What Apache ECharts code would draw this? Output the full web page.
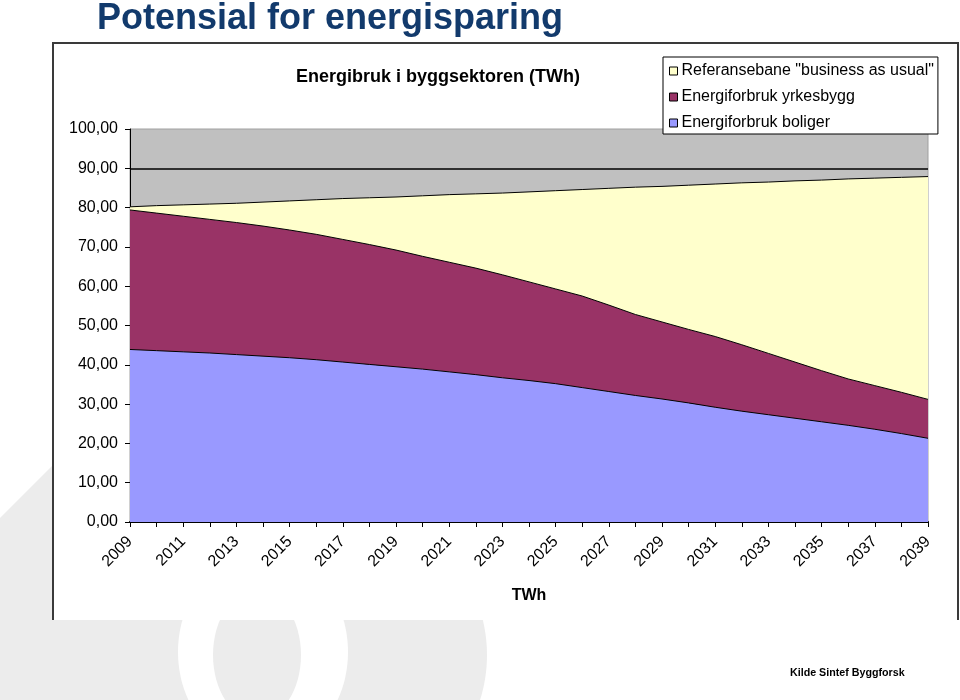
<!DOCTYPE html>
<html>
<head>
<meta charset="utf-8">
<style>
html,body{margin:0;padding:0;background:#fff;}
#chart{width:960px;height:700px;}
</style>
<script src="https://cdn.jsdelivr.net/npm/echarts@6/dist/echarts.min.js"></script>
</head>
<body>
<div id="chart"></div>
<script>
const years = ['2009','2010','2011','2012','2013','2014','2015','2016','2017','2018',
  '2019','2020','2021','2022','2023','2024','2025','2026','2027','2028',
  '2029','2030','2031','2032','2033','2034','2035','2036','2037','2038','2039'];
// Energiforbruk boliger (TWh)
const boliger = [43.9,43.6,43.3,43.0,42.6,42.2,41.8,41.3,40.7,40.1,
  39.5,38.9,38.2,37.5,36.7,36.0,35.2,34.2,33.2,32.2,
  31.3,30.3,29.2,28.2,27.3,26.4,25.5,24.6,23.6,22.5,21.3];
// Energiforbruk yrkesbygg (TWh, stacked on boliger)
const yrkesbygg = [35.5,35.0,34.5,34.0,33.6,33.1,32.5,31.9,31.2,30.5,
  29.7,28.7,27.9,27.1,26.2,25.1,24.1,23.3,22.0,20.6,
  19.6,18.7,18.0,16.9,15.6,14.3,13.0,11.8,11.1,10.5,9.9];
// Referansebane "business as usual" (extra TWh above the two others)
const referanse = [0.8,1.9,2.9,3.9,4.9,6.1,7.4,8.8,10.4,11.9,
  13.5,15.4,17.2,18.9,20.8,22.9,25.0,27.1,29.7,32.4,
  34.5,36.7,38.8,41.2,43.6,46.1,48.5,50.9,52.8,54.7,56.7];

const seriesNames = ['Energiforbruk boliger','Energiforbruk yrkesbygg','Referansebane "business as usual"'];
const seriesColors = ['#9999ff','#993366','#ffffcc'];
const FONT = '"Liberation Sans", Arial, sans-serif';

const chart = echarts.init(document.getElementById('chart'), null, {renderer:'canvas'});

function areaSeries(i, data){
  return {
    name: seriesNames[i], type:'line', stack:'total', data:data,
    symbol:'none', smooth:false,
    lineStyle:{color:'#000', width:1},
    areaStyle:{color:seriesColors[i], opacity:1},
    itemStyle:{color:seriesColors[i]},
    emphasis:{disabled:true},
    z: 3
  };
}

const option = {
  animation:false,
  backgroundColor:'#ffffff',
  textStyle:{fontFamily:FONT},
  graphic:[
    // watermark background shapes
    {type:'polygon', z:-100, silent:true, shape:{points:[[0,518],[53,465],[53,700],[0,700]]}, style:{fill:'#ececec'}},
    {type:'ellipse', z:-100, silent:true, shape:{cx:347, cy:655, rx:140, ry:144}, style:{fill:'#ececec'}},
    {type:'rect', z:-100, silent:true, shape:{x:0, y:618, width:300, height:82}, style:{fill:'#ececec'}},
    {type:'ellipse', z:-99, silent:true, shape:{cx:263, cy:652, rx:85, ry:100}, style:{fill:'#ffffff'}},
    {type:'ellipse', z:-98, silent:true, shape:{cx:257, cy:655, rx:44, ry:65}, style:{fill:'#ececec'}},
    // chart frame
    {type:'rect', z:-90, silent:true, shape:{x:53, y:43, width:905, height:577}, style:{fill:'#ffffff'}},
    {type:'polyline', z:-89, silent:true, shape:{points:[[53,620],[53,43],[958,43],[958,620]]}, style:{stroke:'#3a3a3a', lineWidth:2, fill:null}},
    // page title
    {type:'text', z:10, left:97, top:1, style:{text:'Potensial for energisparing', font:'bold 36px ' + FONT, fill:'#123a6c'}},
    // source
    {type:'text', z:10, left:790, top:668, style:{text:'Kilde Sintef Byggforsk', font:'bold 10.7px ' + FONT, fill:'#000'}}
  ],
  title:{
    text:'Energibruk i byggsektoren (TWh)',
    left:296, top:68, padding:0,
    textStyle:{fontFamily:FONT, fontSize:18, fontWeight:'bold', color:'#000'}
  },
  legend:{
    data:[seriesNames[2], seriesNames[1], seriesNames[0]],
    orient:'vertical',
    left:663, top:57,
    padding:[6,4,3,6],
    itemGap:10,
    itemWidth:8, itemHeight:8,
    icon:'rect',
    backgroundColor:'#ffffff',
    borderColor:'#000', borderWidth:1,
    selectedMode:false,
    itemStyle:{borderColor:'#000', borderWidth:1},
    textStyle:{fontFamily:FONT, fontSize:16, color:'#000', padding:[0,0,0,-1]}
  },
  grid:{
    left:130, right:32, top:129, bottom:178,
    show:true, backgroundColor:'#c0c0c0', borderColor:'#a0a0a0', borderWidth:1,
    containLabel:false
  },
  xAxis:{
    type:'category', data:years, boundaryGap:false,
    name:'TWh', nameLocation:'middle', nameGap:66,
    nameTextStyle:{fontFamily:FONT, fontSize:16, fontWeight:'bold', color:'#000'},
    axisLine:{show:true, onZero:false, lineStyle:{color:'#000', width:2}},
    axisTick:{show:true, interval:0, length:5, inside:false, lineStyle:{color:'#000', width:1}},
    axisLabel:{interval:1, rotate:45, margin:17, fontFamily:FONT, fontSize:16, color:'#000'},
    splitLine:{show:false}
  },
  yAxis:{
    type:'value', min:0, max:100, interval:10,
    axisLine:{show:true, lineStyle:{color:'#000', width:1}},
    axisTick:{show:true, length:5, inside:false, lineStyle:{color:'#000'}},
    axisLabel:{margin:12, fontFamily:FONT, fontSize:16, color:'#000',
      formatter:function(v){ return v.toFixed(2).replace('.', ','); }},
    splitLine:{show:true, showMinLine:false, showMaxLine:false, lineStyle:{color:'#000', width:1.5}}
  },
  series:[
    areaSeries(0, boliger),
    areaSeries(1, yrkesbygg),
    areaSeries(2, referanse)
  ]
};
chart.setOption(option);
</script>
</body>
</html>
